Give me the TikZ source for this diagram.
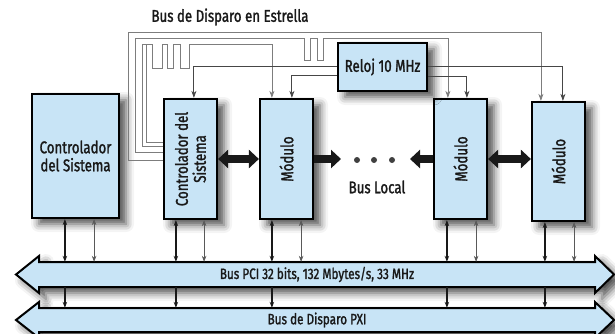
\documentclass[tikz,border=0pt]{standalone}
\usepackage{fontspec}
\setmainfont{Fira Sans}[FakeStretch=0.78, FakeBold=1.5]
\usetikzlibrary{arrows.meta,shadows.blur,calc}
\definecolor{boxblue}{RGB}{200,228,246}
\definecolor{stargray}{RGB}{125,125,125}
\definecolor{clkgray}{RGB}{70,70,70}
\definecolor{inkc}{RGB}{25,25,25}
\begin{document}
\begin{tikzpicture}[x=1pt,y=-1pt,
  shad/.style={blur shadow={shadow xshift=7pt, shadow yshift=-6pt, shadow blur radius=8pt, shadow opacity=70}},
  box/.style={draw=black, line width=2.2pt, fill=boxblue, inner sep=0pt, shad},
  lbl/.style={font=\fontsize{17}{18}\selectfont, text=inkc, align=center, inner sep=0pt},
  buslbl/.style={font=\fontsize{15}{16}\selectfont, text=inkc, inner sep=0pt, minimum width=556pt, minimum height=25pt},
  bus/.style={draw=black, line width=2pt, fill=boxblue, line join=miter, shad},
  star/.style={draw=stargray, line width=0.8pt, -{Stealth[length=7pt,width=5pt,inset=2pt]}},
  starplain/.style={draw=stargray, line width=0.8pt},
  clk/.style={draw=clkgray, line width=0.9pt, -{Stealth[length=7pt,width=5pt,inset=2pt]}},
  thk/.style={draw=inkc, line width=1.5pt, {Stealth[length=6pt,width=4.5pt]}-{Stealth[length=6pt,width=4.5pt]}},
  thn/.style={draw=black!65, line width=0.7pt, {Stealth[length=6pt,width=4.5pt]}-{Stealth[length=6pt,width=4.5pt]}},
  dn/.style={draw=inkc, line width=1.2pt, -{Stealth[length=6pt,width=4.5pt]}},
  blk/.style={draw=inkc, line width=8pt},
  blkdbl/.style={blk, {Triangle[length=10pt,width=18pt]}-{Triangle[length=10pt,width=18pt]}},
  blkone/.style={blk, -{Triangle[length=10pt,width=18pt]}},
  dot/.style={circle, fill=black!75, minimum size=6pt, inner sep=0pt}
]
\useasboundingbox (0,0) rectangle (615,334);

% title
\node[lbl] (title) at (230,17) {Bus de Disparo en Estrella};

% buses
\path[bus] (16,274.5) -- (39,256) -- (39,262) -- (595,262) -- (595,256) -- (614,274.5)
  -- (595,293) -- (595,287) -- (39,287) -- (39,293) -- cycle;
\node[buslbl] (pci) at (317,274.5) {Bus PCI 32 bits, 132 Mbytes/s, 33 MHz};
\path[bus] (16,320) -- (39,302) -- (39,308) -- (595,308) -- (595,302) -- (614,320)
  -- (595,338) -- (595,332) -- (39,332) -- (39,338) -- cycle;
\node[buslbl, minimum height=24pt] (pxi) at (317,320) {Bus de Disparo PXI};

% boxes
\node[box, minimum width=87pt, minimum height=124pt] (ctrl) at (75.5,156) {};
\node[lbl] (ctrlt) at (ctrl.center) {Controlador\\del Sistema};
\node[box, minimum width=53pt, minimum height=120pt] (sc) at (190.5,159) {};
\node[lbl, rotate=90] (sct) at (sc.center) {Controlador del\\Sistema};
\node[box, minimum width=53pt, minimum height=120pt] (m1) at (286.5,159) {};
\node[lbl, rotate=90] (m1t) at (m1.center) {Módulo};
\node[box, minimum width=53pt, minimum height=120pt] (m2) at (460.5,159) {};
\node[lbl, rotate=90] (m2t) at (m2.center) {Módulo};
\node[box, minimum width=53pt, minimum height=119pt] (m3) at (558.5,161.5) {};
\node[lbl, rotate=90] (m3t) at (m3.center) {Módulo};
\node[box, minimum width=89pt, minimum height=48pt] (reloj) at (382.5,67) {};
\node[lbl] (relojt) at (reloj.center) {Reloj 10 MHz};

% star trigger lines
\draw[star] ($(sc.north west)+(0,62)$) -| (128,32) -| ($(m3.north west)+(10,0)$);
\draw[star] ($(sc.north west)+(0,54)$) -| (135,38) -- (304,38) -- (304,60) -- (310,60) -- (310,38)
  -- (317,38) -- (317,60) -- (323,60) -- (323,38) -| ($(m2.north west)+(15,0)$);
\draw[star] ($(sc.north west)+(0,48)$) -| (142,44) -- (152,44) -- (152,68) -- (162,68) -- (162,44)
  -- (167,44) -- (167,68) -- (173,68) -- (173,44) -- (180,44) -- (180,68) -- (189,68) -- (189,44)
  -| ($(m1.north west)+(13,0)$);
\draw[starplain] ($(sc.north west)+(0,44)$) -| (146,44);

% clock lines
\draw[clk] ($(reloj.north west)+(0,25)$) -| ($(sc.north west)+(31,0)$);
\draw[clk] ($(reloj.north west)+(0,34)$) -| ($(m1.north west)+(33,0)$);
\draw[clk] ($(reloj.north east)+(0,25)$) -| ($(m3.north west)+(32,0)$);
\draw[clk] ($(reloj.north east)+(0,35)$) -| ($(m2.north west)+(34,0)$);

% local bus
\draw[blkdbl] (sc.east) -- (m1.west);
\coordinate (ra) at (341,159);
\draw[blkone] (m1.east) -- (ra);
\node[dot] (d1) at (357,160) {};
\node[dot] (d2) at (374,160) {};
\node[dot] (d3) at (392,160) {};
\coordinate (la) at (410,159);
\draw[blkone] (m2.west) -- (la);
\draw[blkdbl] (m2.east) -- (m2.east -| m3.west);
\node[lbl] (local) at (377,187) {Bus Local};

% PCI connections
\foreach \b/\a/\c in {ctrl/34/26, sc/13/14, m1/13/13, m2/14/12, m3/14/12}{
  \draw[thk] ($(\b.south west)+(\a,0)$) coordinate (t\b) -- (t\b |- pci.north);
  \draw[thn] ($(\b.south east)+(-\c,0)$) coordinate (s\b) -- (s\b |- pci.north);
  \draw[dn] (t\b |- pci.south) -- (t\b |- pxi.north);
}
\end{tikzpicture}
\end{document}
